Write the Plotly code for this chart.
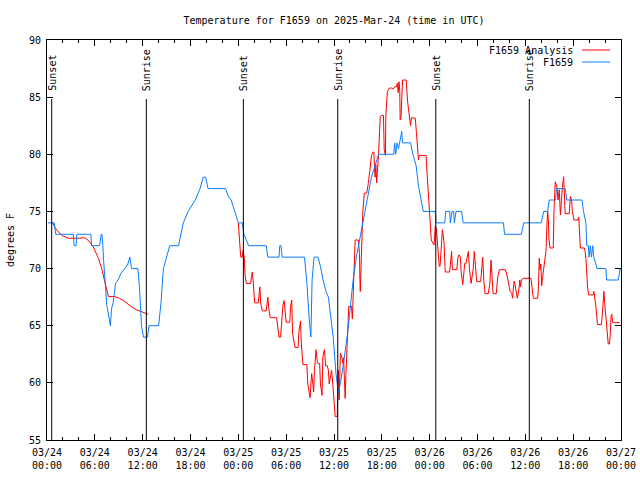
import pandas as pd
import plotly.graph_objects as go

BASE = pd.Timestamp("2025-03-24 00:00")

# F1659 observations: hours since 2025-03-24 00:00 UTC, degrees F
obs_hours = [0.1, 0.9, 1.1, 3.3, 3.4, 3.65, 3.75, 5.5, 5.6, 6.6, 6.8, 6.9, 7.0, 7.1, 7.5, 7.95, 8.1, 8.3, 8.6, 8.9,
             9.3, 9.7, 10.1, 10.4, 10.6, 11.4, 11.6, 11.85, 12.1, 12.6, 12.8, 14.0, 14.3, 14.6, 15.0, 15.4, 16.5, 16.8,
             17.1, 17.7, 18.2, 18.6, 19.2, 19.6, 19.9, 20.2, 22.4, 22.75, 23.1, 23.6, 24.0, 24.5, 24.7, 25.0, 25.3,
             27.5, 27.7, 29.1, 29.2, 29.35, 29.5, 32.3, 32.6, 32.9, 33.1, 33.25, 33.5, 34.0, 34.3, 34.6, 35.0, 35.3,
             35.6, 35.9, 36.25, 36.55, 36.8, 37.2, 37.75, 38.0, 38.4, 38.8, 39.2, 39.6, 40.2, 40.7, 41.1, 41.6, 43.5,
             43.6, 43.75, 43.9, 44.1, 44.5, 44.6, 45.6, 45.9, 46.3, 46.6, 46.9, 47.2, 48.7, 48.8, 49.9, 50.0, 50.5,
             50.6, 50.8, 51.0, 51.1, 51.3, 52.0, 52.2, 57.25, 57.4, 59.5, 59.8, 62.0, 62.3, 62.8, 63.0, 63.8, 63.9,
             65.0, 65.2, 67.1, 67.3, 67.6, 67.7, 67.9, 68.0, 68.15, 68.3, 68.45, 68.6, 69.0, 70.1, 70.2, 71.65, 71.9,
             72.0]
obs_temps = [74, 74, 73, 73, 72, 72, 73, 73, 72, 72, 73, 73, 72, 70.7, 66.8, 65, 66.5, 67, 68.7, 69,
             69.6, 70, 70.3, 71, 70, 70, 68.4, 65, 64, 64, 65, 65, 67, 70, 71, 72, 72, 73,
             74, 75, 75.5, 76, 77, 78, 78, 77, 77, 76.3, 76, 75, 74, 74, 73, 72.5, 72,
             72, 71, 71, 72, 72, 71, 71, 68.7, 65.5, 64, 69, 71, 71, 70.2, 69.1, 68, 67.5,
             65.5, 64, 60.8, 59.1, 60, 61.7, 64.6, 66.4, 69, 71, 72.5, 74.1, 76, 78, 78.9, 80, 80,
             81, 80, 81, 80.5, 82, 81, 81, 80, 79, 77.2, 76, 75, 75, 74, 74, 75, 75,
             74, 75, 75, 74, 75, 75, 74, 74, 73, 73, 74, 74, 75, 75, 76, 76, 77,
             77, 76, 76, 75, 74, 72, 72, 71, 72, 71, 72, 71, 70, 70, 69, 69, 70,
             70]

# F1659 Analysis: hours since 2025-03-24 00:00 UTC (None = data gap), degrees F
ana_hours = [0.67, 1.2, 1.85, 2.7, 3.9, 4.7, 5.3, 5.8, 6.45, 6.9, 7.2, 7.5, 7.7, 8.5, 9.1, 9.8, 10.4, 11.2, 12.0, 12.7,
             12.8,
             24.0, 24.15, 24.3, 24.5, 24.6, 24.75, 24.85, 25.0, 25.55, 25.65, 25.75, 25.85, 25.95, 26.05, 26.5, 26.6,
             26.7, 26.8, 27.0, 27.5, 27.6, 27.7, 27.8, 28.0, 28.8, 29.05, 29.1, 29.3, 29.45, 29.6, 29.75, 29.85, 30.0,
             30.45, 30.55, 30.7, 30.8, 31.1, 31.5, 31.6, 31.8, 31.9, 32.1, 32.6, 32.7, 32.9, 33.0, 33.1, 33.2, 33.35,
             33.45, 33.55, 33.75, 33.9, 34.0, 34.2, 34.3, 34.5, 34.6, 34.8, 34.95, 35.15, 35.3, 35.4, 35.55, 35.7,
             35.85, 36.05, 36.15, 36.4, 36.45, 36.55, 36.65, 36.8, 37.0, 37.1, 37.2, 37.3, 37.4, 37.5, 37.65, 37.7,
             37.85, 38.2, 38.3, 38.4, 38.5, 38.65, 39.05, 39.2, 39.25, 39.3, 39.6, 39.8, 40.1, 40.25, 40.5, 40.7,
             40.9, 41.0, 41.15, 41.25, 41.35, 41.6, 41.8, 42.0, 42.2, 42.3, 42.45, 42.5, 42.7, 42.95, 43.2, 43.4, 43.6,
             43.8, 43.95, 44.05, 44.15, 44.25, 44.3, 44.4, 44.6, 45.05, 45.25, 45.45, 45.6, 45.7, 45.95, 46.2, 46.35,
             46.5, 46.6, 46.7, 47.55, 47.7, 47.8, 48.05, 48.2, 48.55, 48.7, 48.85, 48.95, 49.05, 49.2, 49.3, 49.45,
             49.6, 49.8, 49.95, 50.5, 50.65, 50.75, 50.85, 51.4, 51.55, 51.7, 51.85, 51.95, 52.15, 52.25, 52.4, 52.55,
             52.7, 52.85, 53.0, 53.2, 53.3, 53.45, 53.6, 53.75, 53.9, 54.4, 54.55, 54.65, 54.8, 54.95, 55.35, 55.55,
             55.7, 55.8, 55.95, 56.35, 56.55, 56.75, 57.5, 57.7, 57.9, 58.1, 58.3, 58.4, 58.5, 58.6, 58.7, 58.85,
             59.0, 59.1, 59.2, 59.3, 59.4, 59.5, 59.7, 60.7, 60.85, 61.0, 61.55, 61.65, 61.75, 61.85, 61.95, 62.05,
             62.15, 62.35, 62.6, 62.7, 62.8, 62.9, 62.95, 63.1, 63.5, 63.6, 63.75, 63.9, 64.0, 64.1, 64.25, 64.4,
             64.5, 64.65, 64.8, 64.9, 65.0, 65.5, 65.65, 65.8, 65.9, 66.1, 66.6, 66.7, 66.8, 66.9, 67.4, 67.5, 67.6,
             67.7, 67.8, 67.95, 68.5, 68.6, 68.7, 68.85, 69.05, 69.55, 69.7, 69.85, 69.95, 70.05, 70.15, 70.25, 70.4,
             70.55, 70.65, 70.75, 70.85, 70.95, 71.2, 71.85]
ana_temps = [74, 73.4, 72.9, 72.65, 72.65, 72.7, 72.4, 71.9, 70.9, 69.9, 69, 68.1, 67.55, 67.55, 67.4, 67.1, 66.75, 66.4, 66.2, 66.0,
             None,
             74, 71.9, 71, 71, 71.6, 70.9, 69.4, 68.7, 68.7, 69.3, 69.7, 69, 67.6, 67, 67, 68,
             68.4, 67, 66.3, 66.3, 67, 67.5, 66.6, 65.7, 65.7, 64.4, 64, 64, 65.2, 66.8, 67.2, 66.4, 65.3,
             65.3, 66.7, 67.25, 64.35, 63.1, 63.1, 64.5, 65.4, 63.5, 61.6, 61.6, 60, 59.1, 58.7, 59.9, 60.8, 59.9,
             59.2, 61.1, 62.9, 61.9, 61.7, 61.7, 59.9, 58.9, 62.3, 62.9, 61.5, 61.5, 61.1, 59.9, 60.5, 61.1,
             59.9, 58.2, 57.05, 57.05, 59.7, 61.1, 58.5, 62.6, 62.2, 61.7, 62.2, 60.8, 58.65, 60.8, 63.2, 65.5,
             66.7, 66.7, 65.6, 67.5, 70.2, 72.5, 72.5, 71.3, 69, 68, 74.8, 76.6, 76.6, 77.2, 78.6, 79.9,
             80.2, 80.2, 78, 79.1, 77.5, 80.1, 83.3, 83.4, 83.4, 80.4, 79.9, 83.4, 85.5, 85.8, 85.8, 85.7, 85.9,
             85.9, 86.2, 85.4, 86.35, 85.5, 83, 83.2, 86.5, 86.5, 84.5, 83, 82.5, 83.2, 83.15, 83.15, 81.8,
             80.1, 79.5, 79.9, 79.9, 78, 76.6, 74.25, 72.5, 72.06, 73.7, 73.5, 72.5, 71.2, 70.2, 70.2, 71.6,
             73.4, 72.3, 69.7, 69.7, 71.0, 71.5, 69.9, 69.9, 71, 71.2, 71, 69.7, 68.6, 69.2, 70.45, 70.45,
             71.2, 71.5, 69.9, 68.7, 69.2, 69.9, 71.5, 69.9, 68.86, 68.86, 69.9, 71, 68.86, 67.8, 67.8, 68.7,
             70.75, 69.2, 67.8, 67.8, 69.3, 69.9, 69.9, 69.4, 68.7, 68, 67.8, 67.4, 68.3, 68.9, 68.6, 68.1,
             67.4, 67.8, 68.2, 69, 68.4, 69, 69.15, 69.15, 68.3, 67.4, 67.4, 68.5, 70.9, 69.9, 70.4, 68.5,
             69.15, 70.45, 71.6, 73.7, 75, 74.2, 72.65, 71.8, 71.8, 75.1, 77.6, 77.3, 76.9, 76.0, 76.9, 74.7,
             76, 77.1, 78.04, 76.5, 74.8, 74.8, 76.3, 76, 75, 74.25, 74.25, 74.5, 72.9, 71.8, 71.8, 71.5, 70.9,
             69.6, 68.4, 67.7, 67.7, 68, 67.6, 66.7, 65.1, 65.1, 66.4, 68.0, 67, 66.1, 65.1, 64.2, 63.4,
             63.4, 64.2, 65.8, 66.0, 65.3, 65.27, 65.27]

# Sunset / sunrise markers: hours since 2025-03-24 00:00 UTC
event_hours = [0.59, 12.46, 24.63, 36.47, 48.77, 60.5]
event_labels = ["Sunset", "Sunrise", "Sunset", "Sunrise", "Sunset", "Sunrise"]

series_names = ["F1659 Analysis", "F1659"]
series_colors = ["#ff0000", "#0a7cff"]

y_range = [55, 90]
x_range_hours = [0, 72]


def to_time(hours):
    return [BASE + pd.to_timedelta(h, unit="h") for h in hours]


FONT = "DejaVu Sans Mono"

fig = go.Figure()
fig.add_trace(go.Scatter(x=to_time(ana_hours), y=ana_temps, mode="lines", name=series_names[0],
                         line=dict(color=series_colors[0], width=1), connectgaps=False, showlegend=False))
fig.add_trace(go.Scatter(x=to_time(obs_hours), y=obs_temps, mode="lines", name=series_names[1],
                         line=dict(color=series_colors[1], width=1), showlegend=False))

event_times = to_time(event_hours)
for t, lab in zip(event_times, event_labels):
    fig.add_shape(type="line", xref="x", yref="paper", x0=t, x1=t, y0=0, y1=0.8525,
                  line=dict(color="black", width=1))
    fig.add_annotation(x=t, xref="x", y=0.87, yref="paper", text=lab, textangle=-90,
                       showarrow=False, xanchor="center", yanchor="bottom",
                       font=dict(family=FONT, size=10, color="black"), borderpad=0)

# legend (gnuplot style: text then line sample on the right)
leg_y = [0.975, 0.945]
for name, col, yy in zip(series_names, series_colors, leg_y):
    fig.add_annotation(x=0.918, xref="paper", y=yy, yref="paper", text=name, showarrow=False,
                       xanchor="right", yanchor="middle", font=dict(family=FONT, size=10, color="black"),
                       borderpad=0)
    fig.add_shape(type="line", xref="paper", yref="paper", x0=0.932, x1=0.981, y0=yy, y1=yy,
                  line=dict(color=col, width=1))

xr = to_time(x_range_hours)
fig.update_layout(
    width=640, height=480,
    margin=dict(l=47, r=19, t=40, b=40, autoexpand=False),
    paper_bgcolor="white", plot_bgcolor="white",
    font=dict(family=FONT, size=10, color="black"),
    hovermode=False,
    title=dict(text="Temperature for F1659 on 2025-Mar-24 (time in UTC)", x=0.5, xref="paper",
               xanchor="center", y=1 - 20 / 480, yref="container", yanchor="middle",
               font=dict(family=FONT, size=10, color="black"), automargin=False),
    xaxis=dict(type="date", range=xr, tickmode="linear", tick0=xr[0], dtick=6 * 3600 * 1000,
               tickformat="%m/%d<br>%H:%M", ticks="inside", ticklen=6, tickcolor="black",
               showgrid=False, zeroline=False, showline=True, linecolor="black", linewidth=1,
               mirror="allticks", automargin=False, ticklabelstandoff=3,
               minor=dict(dtick=2 * 3600 * 1000, tick0=xr[0], ticks="inside", ticklen=3,
                          tickcolor="black", showgrid=False),
               tickfont=dict(family=FONT, size=10, color="black")),
    yaxis=dict(range=y_range, tickmode="linear", tick0=55, dtick=5, ticks="inside", ticklen=6,
               tickcolor="black", showgrid=False, zeroline=False, showline=True, linecolor="black",
               linewidth=1, mirror="allticks", automargin=False, ticklabelstandoff=3,
               title=dict(text="degrees F", font=dict(family=FONT, size=10, color="black"), standoff=12),
               tickfont=dict(family=FONT, size=10, color="black")),
)

fig.write_html("out.html", post_script="document.body.style.margin='0';",
               config={"displayModeBar": False, "staticPlot": True})
